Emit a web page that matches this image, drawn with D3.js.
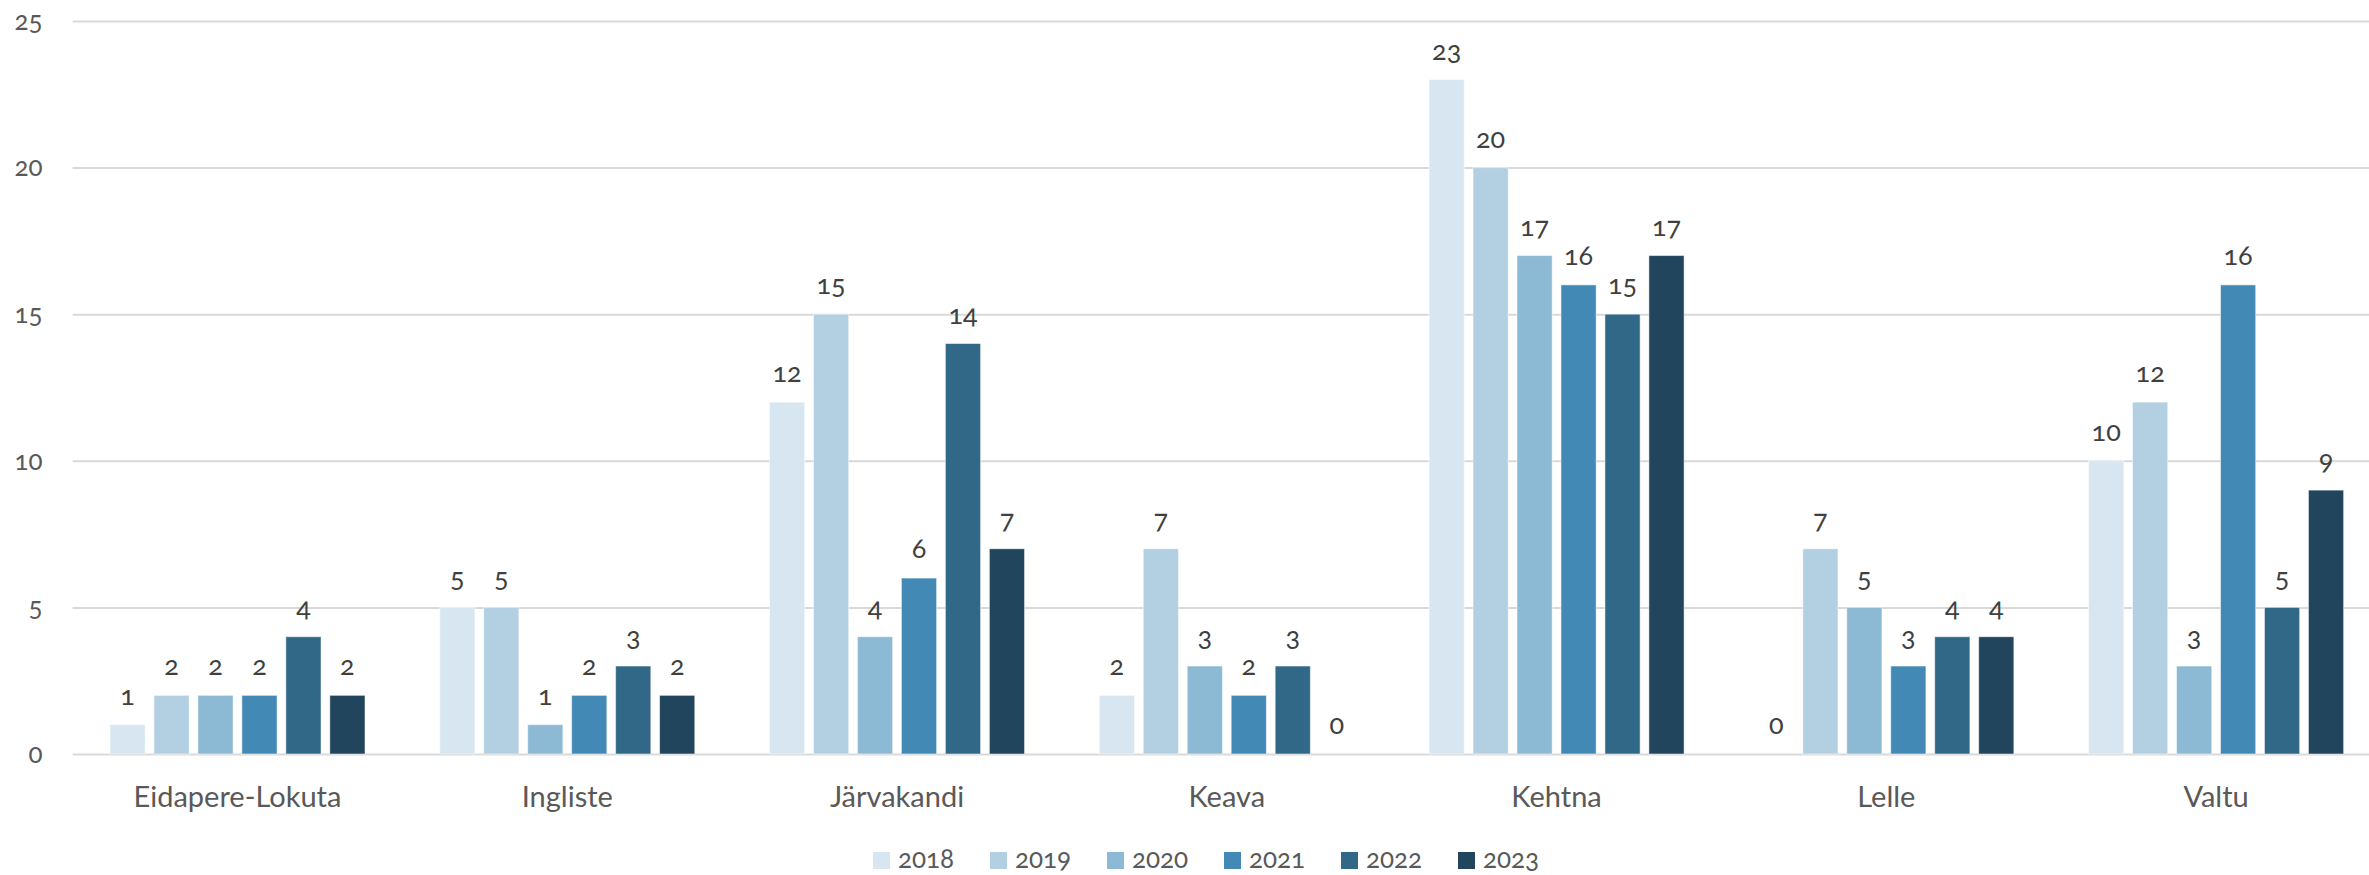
<!DOCTYPE html>
<html>
<head>
<meta charset="utf-8">
<script src="https://cdn.jsdelivr.net/npm/d3@7"></script>
<style>
  html, body { margin: 0; padding: 0; background: #ffffff; }
  svg { display: block; }
  svg text { font-family: "Lato", "Open Sans", sans-serif; font-variant-numeric: oldstyle-nums; font-feature-settings: "onum" 1; }
</style>
</head>
<body>
<svg id="chart" width="2369" height="875"></svg>
<script>
const categories = ["Eidapere-Lokuta", "Ingliste", "Järvakandi", "Keava", "Kehtna", "Lelle", "Valtu"];
const years = ["2018", "2019", "2020", "2021", "2022", "2023"];
const v2018 = [1, 5, 12, 2, 23, 0, 10];
const v2019 = [2, 5, 15, 7, 20, 7, 12];
const v2020 = [2, 1, 4, 3, 17, 5, 3];
const v2021 = [2, 2, 6, 2, 16, 3, 16];
const v2022 = [4, 3, 14, 3, 15, 4, 5];
const v2023 = [2, 2, 7, 0, 17, 4, 9];
const yTicks = [0, 5, 10, 15, 20, 25];
const colors = ["#d7e6f0", "#b2d0e2", "#8cb9d4", "#428ab5", "#316887", "#21455c"];

const seriesValues = [v2018, v2019, v2020, v2021, v2022, v2023];

const svg = d3.select("#chart");
const W = 2369, H = 875;
const plotLeft = 72.6, plotRight = 2381, plotTop = 21, plotBottom = 754;
const FONT = "Lato, 'Open Sans', sans-serif";

const y = d3.scaleLinear().domain([0, 25]).range([plotBottom, plotTop]);
const x0 = d3.scaleBand().domain(categories).range([plotLeft, plotRight]).paddingInner(0.2).paddingOuter(0.1);
const x1 = d3.scaleBand().domain(years).range([0, x0.bandwidth()]).paddingInner(0.2).paddingOuter(0.1);
const color = d3.scaleOrdinal().domain(years).range(colors);

// gridlines
const yAxis = d3.axisLeft(y).tickValues(yTicks).tickSize(-(W - plotLeft)).tickPadding(30);
const gy = svg.append("g").attr("transform", `translate(${plotLeft},0)`).call(yAxis)
  .attr("font-family", FONT);
gy.select(".domain").remove();
gy.selectAll(".tick line").attr("stroke", "#d9d9d9").attr("stroke-width", 2);
gy.selectAll(".tick text").attr("fill", "#595959").attr("font-size", 26).attr("dy", "0.32em")
  .attr("x", -30);

// bars
const data = categories.map((c, i) => ({ cat: c, vals: years.map((yr, j) => ({ yr, v: seriesValues[j][i] })) }));

const groups = svg.append("g").selectAll("g").data(data).join("g")
  .attr("transform", d => `translate(${x0(d.cat)},0)`);

groups.selectAll("rect").data(d => d.vals).join("rect")
  .attr("x", d => x1(d.yr))
  .attr("y", d => y(d.v))
  .attr("width", x1.bandwidth())
  .attr("height", d => y(0) - y(d.v))
  .attr("fill", d => color(d.yr))
  .attr("stroke", "#ffffff").attr("stroke-opacity", 0.5).attr("stroke-width", 1);

groups.selectAll("text").data(d => d.vals).join("text")
  .attr("x", d => x1(d.yr) + x1.bandwidth() / 2)
  .attr("y", d => y(d.v) - 20)
  .attr("text-anchor", "middle")
  .attr("fill", "#404040")
  .attr("font-size", 27)
  .text(d => d.v);

// category labels
const xAxis = d3.axisBottom(x0).tickSize(0).tickPadding(0);
const gx = svg.append("g").attr("transform", `translate(0,${plotBottom})`).call(xAxis)
  .attr("font-family", FONT);
gx.select(".domain").remove();
gx.selectAll(".tick text").attr("fill", "#595959").attr("font-size", 29)
  .attr("y", 53).attr("dy", 0);

// legend
const legend = svg.append("g").attr("transform", "translate(873,0)");
const li = legend.selectAll("g").data(years).join("g")
  .attr("transform", (d, i) => `translate(${i * 117},0)`);
li.append("rect").attr("x", 0).attr("y", 852).attr("width", 17).attr("height", 17).attr("fill", d => color(d));
li.append("text").attr("x", 25).attr("y", 868).attr("fill", "#595959").attr("font-size", 26).text(d => d);
</script>
</body>
</html>
